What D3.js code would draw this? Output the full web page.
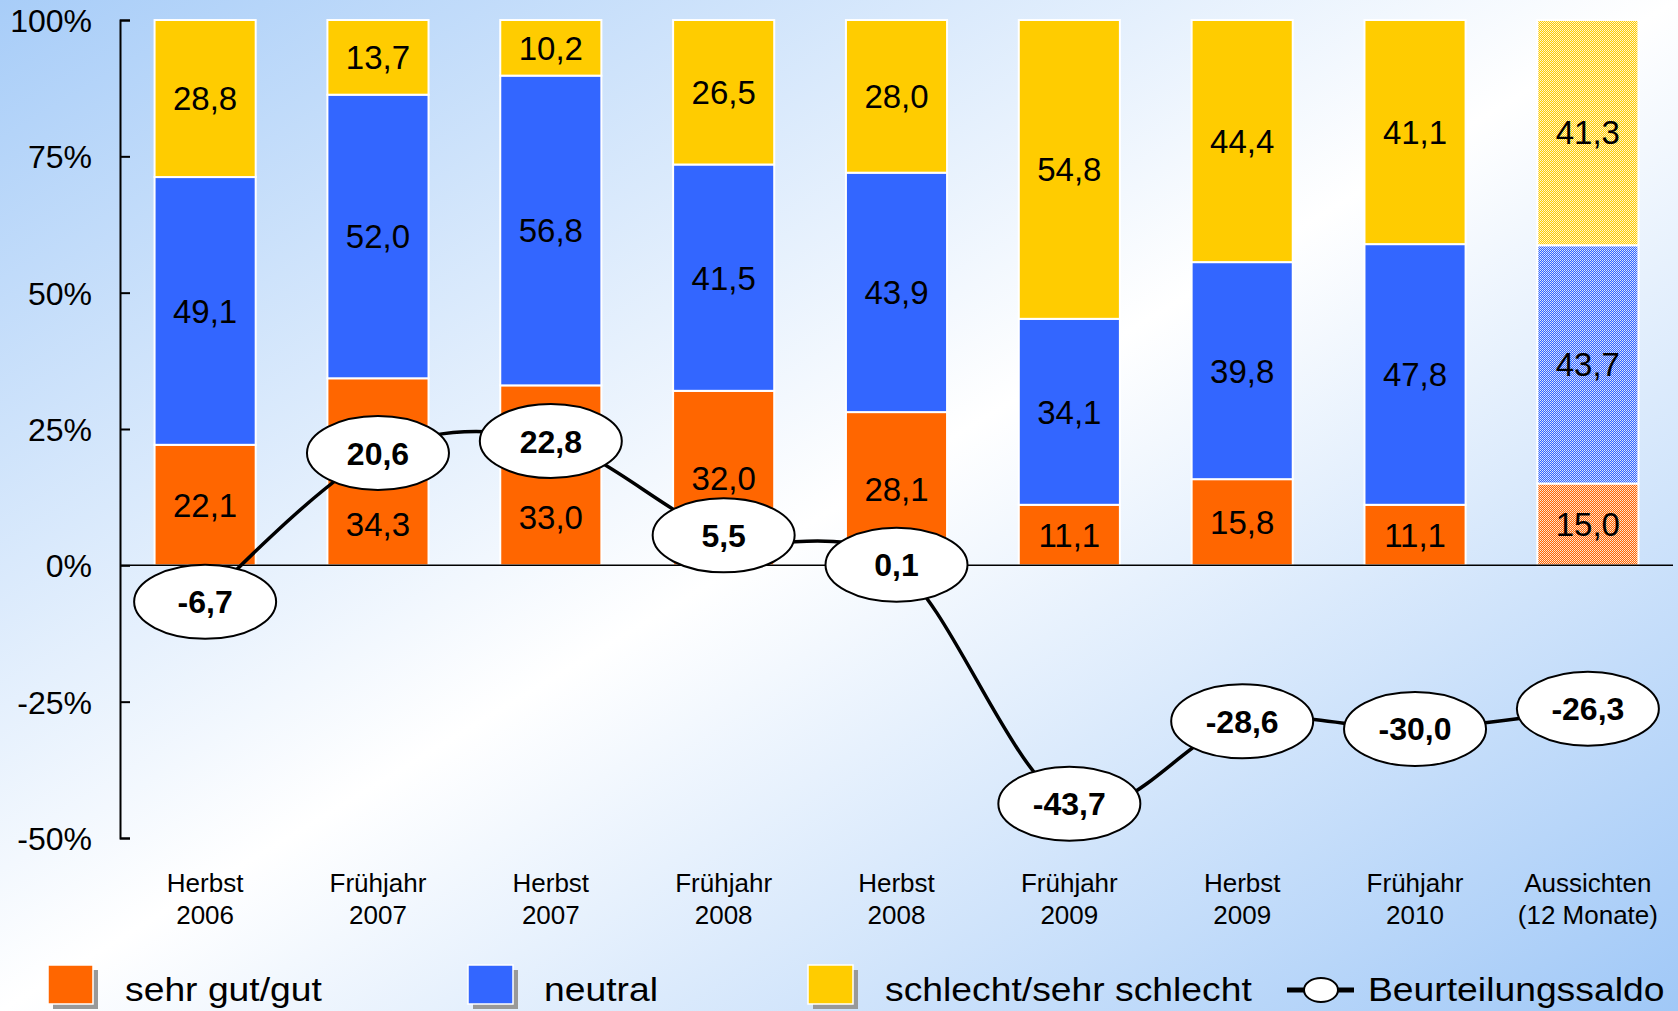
<!DOCTYPE html>
<html>
<head>
<meta charset="utf-8">
<script src="https://cdn.jsdelivr.net/npm/d3@7"></script>
<style>
  html, body { margin: 0; padding: 0; background: #fff; }
  svg { display: block; font-family: "Liberation Sans", Arial, sans-serif; }
</style>
</head>
<body>
<svg id="chart" width="1678" height="1011"></svg>
<script>
// ---------- DATA ----------
const categories = [
  ["Herbst", "2006"], ["Frühjahr", "2007"], ["Herbst", "2007"],
  ["Frühjahr", "2008"], ["Herbst", "2008"], ["Frühjahr", "2009"],
  ["Herbst", "2009"], ["Frühjahr", "2010"], ["Aussichten", "(12 Monate)"]
];
const sehrGut  = [22.1, 34.3, 33.0, 32.0, 28.1, 11.1, 15.8, 11.1, 15.0];
const neutral  = [49.1, 52.0, 56.8, 41.5, 43.9, 34.1, 39.8, 47.8, 43.7];
const schlecht = [28.8, 13.7, 10.2, 26.5, 28.0, 54.8, 44.4, 41.1, 41.3];
const saldo    = [-6.7, 20.6, 22.8, 5.5, 0.1, -43.7, -28.6, -30.0, -26.3];
const isOutlook = [false, false, false, false, false, false, false, false, true];
const yTicks = [-50, -25, 0, 25, 50, 75, 100];
const seriesNames = ["sehr gut/gut", "neutral", "schlecht/sehr schlecht"];
const lineName = "Beurteilungssaldo";

// ---------- SETUP ----------
const W = 1678, H = 1011;
const svg = d3.select("#chart");
const colors = ["#FF6600", "#3366FF", "#FFCC00"];
const keys = ["g", "n", "s"];

const locale = d3.formatLocale({decimal: ",", thousands: ".", grouping: [3], currency: ["", "€"], minus: "-"});
const fmt = locale.format(".1f");

const defs = svg.append("defs");
const bg = defs.append("linearGradient").attr("id", "bg")
  .attr("x1", 0).attr("y1", 0).attr("x2", 1).attr("y2", 1);
bg.append("stop").attr("offset", 0).attr("stop-color", "#a8cdf8");
bg.append("stop").attr("offset", 0.5).attr("stop-color", "#ffffff");
bg.append("stop").attr("offset", 1).attr("stop-color", "#a0c8f7");

colors.forEach((c, i) => {
  const p = defs.append("pattern").attr("id", "pat" + i)
    .attr("width", 2).attr("height", 2).attr("patternUnits", "userSpaceOnUse");
  p.append("rect").attr("width", 2).attr("height", 2).attr("fill", c);
  p.append("rect").attr("x", 0).attr("y", 0).attr("width", 1).attr("height", 1).attr("fill", "#fff").attr("opacity", 0.85);
  p.append("rect").attr("x", 1).attr("y", 1).attr("width", 1).attr("height", 1).attr("fill", "#fff").attr("opacity", 0.7);
});

svg.append("rect").attr("width", W).attr("height", H).attr("fill", "url(#bg)");

const catKeys = categories.map(c => c.join(" "));
const x = d3.scaleBand().domain(catKeys).range([120, 1673]).paddingInner(0.415).paddingOuter(0.2);
const y = d3.scaleLinear().domain([-50, 100]).range([838, 20]);

const rows = catKeys.map((k, i) => ({cat: k, g: sehrGut[i], n: neutral[i], s: schlecht[i], saldo: saldo[i], outlook: isOutlook[i]}));
const stacked = d3.stack().keys(keys)(rows);

// ---------- BARS ----------
const barG = svg.append("g");
stacked.forEach((layer, li) => {
  barG.selectAll(null).data(layer).enter().append("rect")
    .attr("x", d => x(d.data.cat))
    .attr("width", x.bandwidth())
    .attr("y", d => y(d[1]))
    .attr("height", d => y(d[0]) - y(d[1]))
    .attr("fill", d => d.data.outlook ? `url(#pat${li})` : colors[li])
    .attr("stroke", "#fff").attr("stroke-width", 2);
});

// ---------- AXIS ----------
const yAxis = d3.axisLeft(y).tickValues(yTicks)
  .tickFormat(d => d + "%")
  .tickSizeInner(-10).tickSizeOuter(-10).tickPadding(28);
const ax = svg.append("g").attr("transform", "translate(120,0)").call(yAxis);
ax.select(".domain").attr("stroke", "#000").attr("stroke-width", 2);
ax.selectAll(".tick line").attr("stroke", "#000").attr("stroke-width", 2);
ax.selectAll(".tick text").attr("font-size", 32).attr("fill", "#000")
  .attr("font-family", "'Liberation Sans', Arial, sans-serif").attr("dy", "0.36em");

// zero line
svg.append("line").attr("x1", 120).attr("x2", x.range()[1])
  .attr("y1", y(0)).attr("y2", y(0)).attr("stroke", "#000").attr("stroke-width", 1.5);

// category labels
const catText = svg.append("g").selectAll("text").data(categories).enter().append("text")
  .attr("text-anchor", "middle").attr("font-size", 26).attr("fill", "#000");
catText.append("tspan").attr("x", (d, i) => x(catKeys[i]) + x.bandwidth() / 2).attr("y", y(-50) + 54).text(d => d[0]);
catText.append("tspan").attr("x", (d, i) => x(catKeys[i]) + x.bandwidth() / 2).attr("y", y(-50) + 86).text(d => d[1]);

// ---------- LINE ----------
const RX = 71, RY = 37;
const cx = i => x(catKeys[i]) + x.bandwidth() / 2;
const line = d3.line().x((d, i) => cx(i)).y(d => y(d)).curve(d3.curveCatmullRom.alpha(0));

// bar value labels (with avoidance of the saldo ellipses)
const labG = svg.append("g");
stacked.forEach((layer, li) => {
  layer.forEach((d, i) => {
    const top = y(d[1]), bot = y(d[0]);
    let ly = (top + bot) / 2;
    const ey = y(saldo[i]);
    const overlap = Math.abs(ly - ey) < RY + 14;
    if (overlap) {
      if (bot - (ey + RY) > 30) ly = (ey + RY) + (bot - ey - RY) * 0.45;
      else if ((ey - RY) - top > 30) ly = (top + ey - RY) / 2;
    }
    labG.append("text").attr("x", cx(i)).attr("y", ly).attr("dy", "0.36em")
      .attr("text-anchor", "middle").attr("font-size", 33).attr("fill", "#000")
      .text(fmt(d.data[keys[li]]));
  });
});

svg.append("path").datum(saldo).attr("d", line)
  .attr("fill", "none").attr("stroke", "#000").attr("stroke-width", 3.5);

const ellG = svg.append("g").selectAll("g").data(saldo).enter().append("g")
  .attr("transform", (d, i) => `translate(${cx(i)},${y(d)})`);
ellG.append("ellipse").attr("rx", RX).attr("ry", RY)
  .attr("fill", "#fff").attr("stroke", "#000").attr("stroke-width", 2);
ellG.append("text").attr("text-anchor", "middle").attr("dy", "0.36em")
  .attr("font-size", 32).attr("font-weight", "bold").attr("fill", "#000")
  .text(d => fmt(d));

// ---------- LEGEND ----------
const leg = svg.append("g");
const legX = [48, 468, 808];
const legTextX = [125, 544, 885];
seriesNames.forEach((name, i) => {
  leg.append("rect").attr("x", legX[i] + 5).attr("y", 970).attr("width", 45).attr("height", 39).attr("fill", "#999");
  leg.append("rect").attr("x", legX[i]).attr("y", 965).attr("width", 45).attr("height", 39)
    .attr("fill", colors[i]).attr("stroke", "#fff").attr("stroke-width", 1.5);
  leg.append("text").attr("transform", `translate(${legTextX[i]},1001) scale(1.13,1)`)
    .attr("font-size", 33).attr("fill", "#000").text(name);
});
leg.append("line").attr("x1", 1287).attr("x2", 1354).attr("y1", 990).attr("y2", 990)
  .attr("stroke", "#000").attr("stroke-width", 5);
leg.append("ellipse").attr("cx", 1321).attr("cy", 990).attr("rx", 17).attr("ry", 12)
  .attr("fill", "#fff").attr("stroke", "#000").attr("stroke-width", 2);
leg.append("text").attr("transform", `translate(1368,1001) scale(1.13,1)`)
  .attr("font-size", 33).attr("fill", "#000").text(lineName);
</script>
</body>
</html>
